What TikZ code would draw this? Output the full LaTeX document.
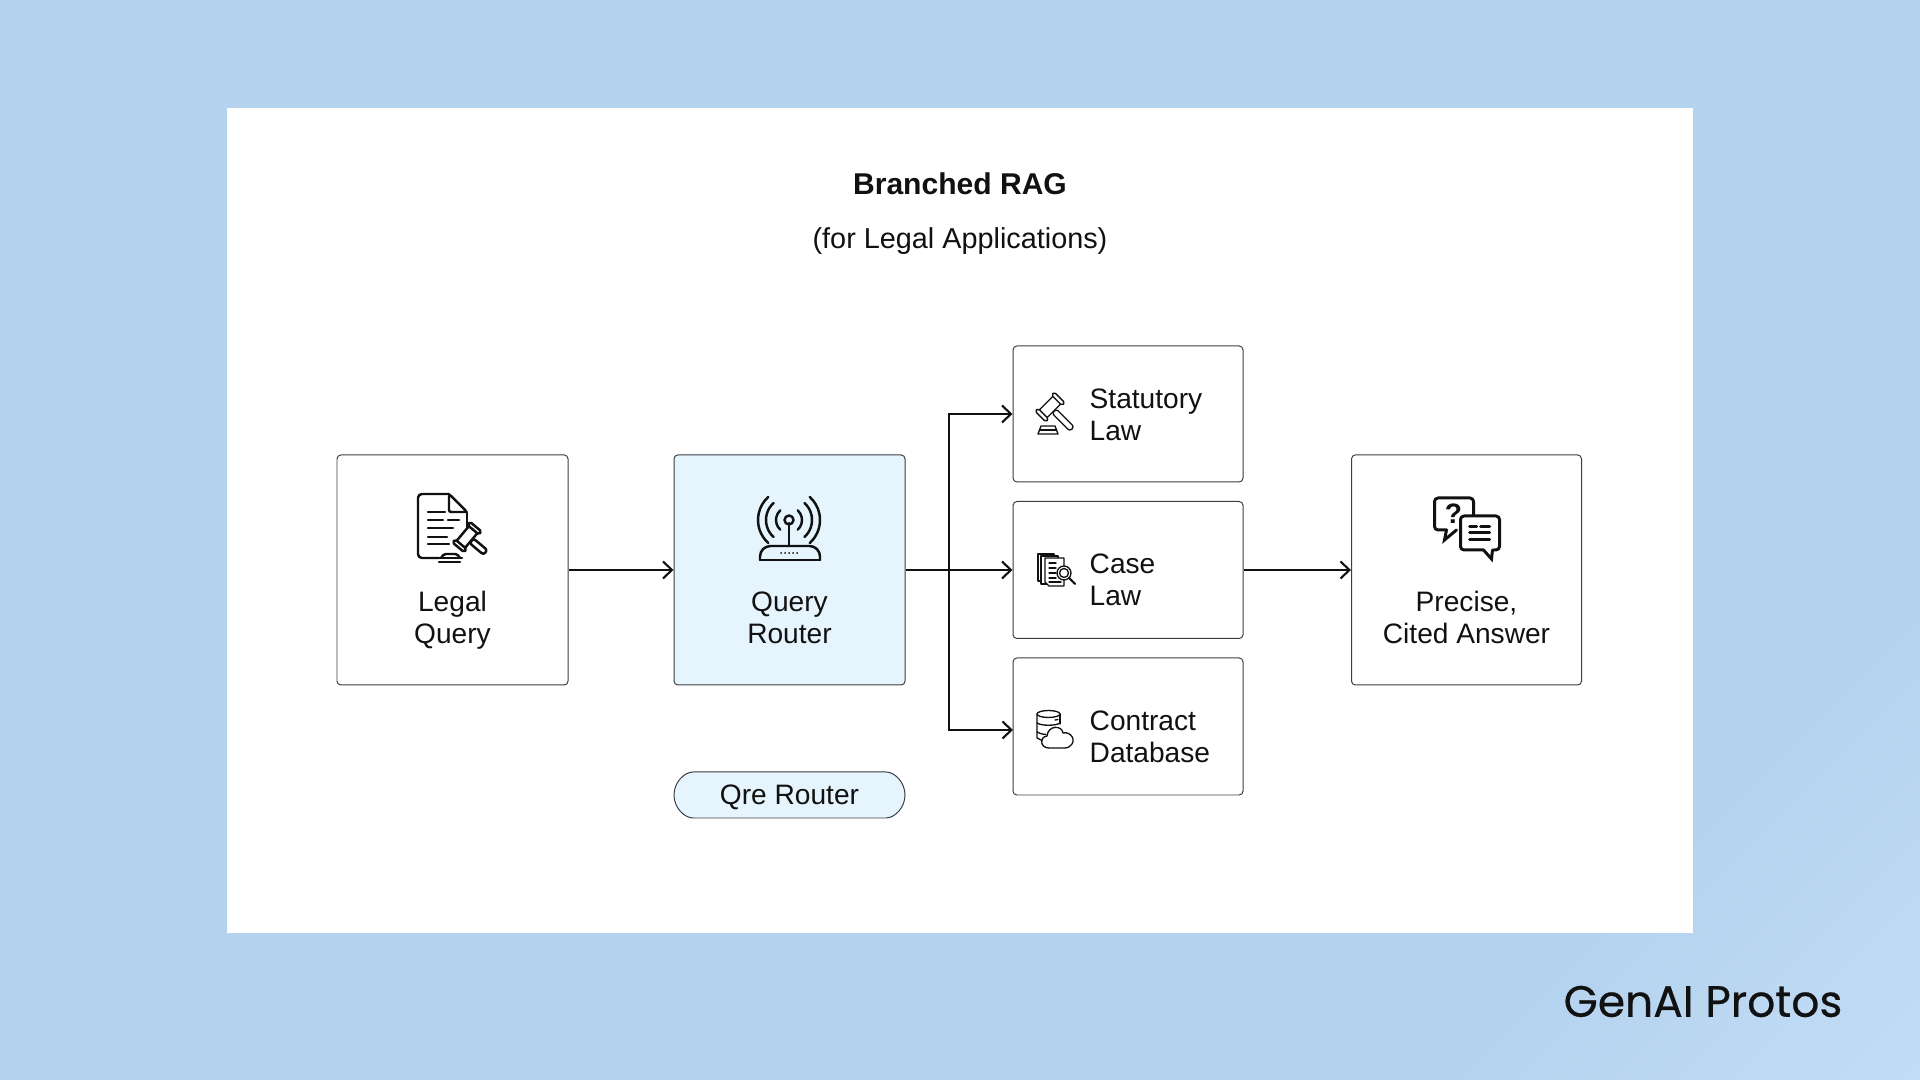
\documentclass[tikz,border=0pt]{standalone}
\usepackage{fontspec}
\setmainfont{Liberation Sans}
\newfontfamily\logofont[FakeBold=0.5]{Poppins}
\usetikzlibrary{arrows.meta, shapes.misc}

\definecolor{bgblue}{HTML}{B4D3EF}
\definecolor{bgpale}{HTML}{CBE1F8}
\definecolor{routerblue}{HTML}{E6F4FE}
\definecolor{edgegray}{HTML}{3A3F45}
\definecolor{inkblack}{HTML}{111111}

\pgfdeclarehorizontalshading{bgcorner}{100bp}{color(0bp)=(bgblue); color(74bp)=(bgblue); color(92bp)=(bgpale); color(100bp)=(bgpale)}

\tikzset{
  box/.style={draw=edgegray, line width=0.28pt, rounded corners=1.1pt, fill=white, inner sep=0pt},
  label/.style={align=center, text=inkblack, inner sep=0pt, font=\fontsize{8}{9.1}\selectfont},
  sidelabel/.style={label, align=left, anchor=west},
  link/.style={draw=inkblack, line width=0.6pt, -{Straight Barb[length=0.9mm, width=1.7mm, line width=0.6pt]}},
  trunkline/.style={draw=inkblack, line width=0.6pt},
  icon/.style={x=0.1mm, y=-0.1mm, draw=inkblack, line width=0.7pt, line cap=round, line join=round},
  smallicon/.style={icon, line width=0.38pt}
}

\newcommand{\gavelshape}[1]{
  \draw [fill=white, rounded corners=0.7pt] (6,-3) rectangle (#1,3);
  \draw [fill=white, rounded corners=0.4pt] (-5.5,-10) rectangle (5.5,10);
  \draw [fill=white, rounded corners=0.5pt] (-7.5,-13.5) rectangle (7.5,-9.5);
  \draw [fill=white, rounded corners=0.5pt] (-7.5,9.5) rectangle (7.5,13.5);
}

\begin{document}
\begin{tikzpicture}
\useasboundingbox (0,0) rectangle (19.2,10.8);
\shade [shading=bgcorner, shading angle=-45] (0,0) rectangle (19.2,10.8);
\fill [white] (2.265,1.47) rectangle (16.93,9.72);

\node (title) [label, font=\fontsize{8.55}{10}\selectfont\bfseries] at (9.6,8.96) {Branched RAG};
\node (subtitle) [label, font=\fontsize{8.2}{10}\selectfont] at (9.6,8.39) {(for Legal Applications)};

\node (legal) [box, minimum width=2.31cm, minimum height=2.30cm] at (4.525,5.10) {};
\node (router) [box, fill=routerblue, minimum width=2.31cm, minimum height=2.30cm] at (7.895,5.10) {};
\node (statute) [box, minimum width=2.30cm, minimum height=1.36cm] at (11.28,6.66) {};
\node (case) [box, minimum width=2.30cm, minimum height=1.37cm] at (11.28,5.10) {};
\node (contract) [box, minimum width=2.30cm, minimum height=1.37cm] at (11.28,3.535) {};
\node (answer) [box, minimum width=2.30cm, minimum height=2.30cm] at (14.665,5.10) {};
\node (pill) [box, rounded rectangle, fill=routerblue, minimum width=2.31cm, minimum height=0.46cm] at (7.895,2.85) {};

\node (legal label) [label] at (4.525,4.60) {Legal\\Query};
\node (router label) [label] at (7.895,4.62) {Query\\Router};
\node (answer label) [label] at (14.665,4.63) {Precise,\\Cited Answer};
\node (statute label) [sidelabel] at (10.89,6.65) {Statutory\\Law};
\node (case label) [sidelabel] at (10.89,5.00) {Case\\Law};
\node (contract label) [sidelabel] at (10.89,3.43) {Contract\\Database};
\node (pill label) [label] at (7.895,2.83) {Qre Router};
\node (logo) [text=inkblack, inner sep=0pt, font=\logofont\fontsize{12.5}{14}\selectfont] at (17.03,0.785) {GenAI Protos};

\coordinate (trunk) at (9.49,5.10);
\coordinate (contract in) at (10.13,3.50);

\draw [link] (legal) -- (router);
\draw [trunkline] (router) -- (trunk);
\draw [link] (trunk) -- (case);
\draw [link] (trunk) |- (statute);
\draw [link] (trunk) |- (contract in);
\draw [link] (case) -- (answer);

% legal query icon
\begin{scope}[icon, shift={(4.52cm,5.52cm)}]
\draw [rounded corners=1.1pt] (-3,-34) -- (-34,-34) -- (-34,30) -- (-13,30);
\draw [rounded corners=0.6pt] (-3,-34) -- (15,-16) -- (-3,-16) -- cycle;
\draw (15,-16) -- (15,3);
\draw (-24,-16) -- (-7,-16);
\draw (-24,-8) -- (-9,-8);
\draw (-4,-8) -- (7,-8);
\draw (-24,0) -- (1,0);
\draw (-24,9) -- (-5,9);
\draw (-24,16) -- (-3,16);
\draw [fill=white, rounded corners=0.5pt] (-11,30) -- (-8,26) -- (5,26) -- (8,30);
\draw (-15,30) -- (10,30);
\draw (-13,34) -- (8,34);
\begin{scope}[shift={(15,9)}, rotate=-40]
\gavelshape{24}
\end{scope}
\end{scope}

% router icon
\begin{scope}[icon, shift={(7.90cm,5.52cm)}]
\draw (-1,-5) -- (-1,18);
\draw (-1,-8) circle (4.5);
\foreach \r in {13,23,31} {
  \draw (-1,-8) ++(48:\r) arc [start angle=48, end angle=-48, radius=\r];
  \draw (-1,-8) ++(132:\r) arc [start angle=132, end angle=228, radius=\r];
}
\draw [rounded corners=3pt] (-30,32) -- (-30,18) -- (30,18) -- (30,32);
\draw (-30,32) -- (30,32);
\foreach \x in {-9,-5,-1,3,7} {
  \fill [inkblack] (\x,25) circle (1);
}
\end{scope}

% answer icon
\begin{scope}[icon, line width=0.85pt, shift={(14.665cm,5.52cm)}]
\draw [rounded corners=1pt] (-20,2) -- (-32,2) -- (-32,-30) -- (7,-30) -- (7,-12);
\draw [line join=miter] (-20,2) -- (-22,12) -- (-10,2);
\draw [fill=white, rounded corners=1pt] (17,22) -- (-6,22) -- (-6,-12) -- (33,-12) -- (33,22) -- (27,22);
\draw [line join=miter] (17,22) -- (25,31) -- (26,22);
\draw (3,-1) -- (10,-1);
\draw (14,-1) -- (23,-1);
\draw (3,5) -- (23,5);
\draw (3,12) -- (23,12);
\node (question) [text=inkblack, inner sep=0pt, font=\fontsize{8}{8}\selectfont\bfseries] at (-13,-14) {?};
\end{scope}

% statutory law icon
\begin{scope}[smallicon, shift={(10.55cm,6.64cm)}]
\begin{scope}[shift={(-5,-9)}, rotate=-45]
\gavelshape{31}
\end{scope}
\draw (-14,10) -- (0,10) -- (3,18) -- (-17,18) -- cycle;
\draw (-15.5,14) -- (1.5,14);
\end{scope}

% case law icon
\begin{scope}[smallicon, shift={(10.55cm,5.11cm)}]
\draw [fill=white] (-17,-15) rectangle (-1,12);
\draw [fill=white] (-14,-13) rectangle (3,15);
\draw [fill=white] (-10,-11) -- (9,-11) -- (9,17) -- (-6,17) -- (-10,13) -- cycle;
\foreach \y in {-6,-1,4,9} {
  \draw (-6,\y) -- (1,\y);
}
\draw (-6,13) -- (6,13);
\draw [fill=white] (9,4) circle (7);
\draw (9,4) circle (4.5);
\draw [line width=0.6pt] (14,9) -- (20,15);
\end{scope}

% contract database icon
\begin{scope}[smallicon, shift={(10.53cm,3.50cm)}]
\draw (-4.5,-16) ellipse (11.5 and 3.5);
\draw (-16,-16) -- (-16,8) -- (-10,11);
\draw (7,-16) -- (7,-6);
\draw (-16,-7) .. controls (-12,-4) and (3,-4) .. (7,-7);
\draw (-16,2) .. controls (-14,3.5) and (-11,4) .. (-7,4.5);
\draw (2,-10) -- (5,-10.5);
\draw [fill=white] (-4,18) .. controls (-13,18) and (-14,7) .. (-6,6) .. controls (-5,-5) and (9,-5) .. (10,3) .. controls (18,1) and (24,11) .. (17,16) .. controls (16,17) and (15,18) .. (12,18) -- cycle;
\end{scope}
\end{tikzpicture}
\end{document}
